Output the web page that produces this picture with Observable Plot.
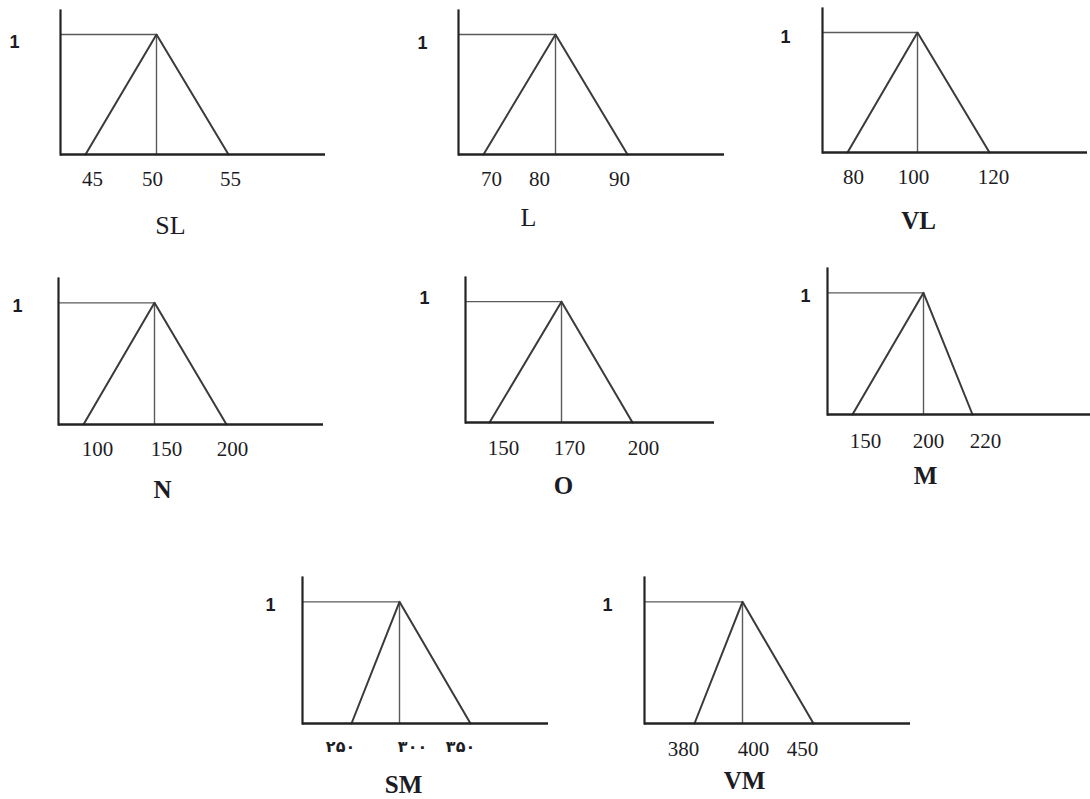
<!DOCTYPE html>
<html><head><meta charset="utf-8">
<script src="https://cdn.jsdelivr.net/npm/d3@7"></script>
<script src="https://cdn.jsdelivr.net/npm/@observablehq/plot@0.6"></script>
<style>
html,body{margin:0;padding:0;background:#fff;}
#chart{position:relative;width:1090px;height:799px;overflow:hidden;background:#fff;}
#chart svg{position:absolute;overflow:visible;}
</style></head><body><div id="chart"></div>
<script>
// ---- data ----
const setNames  = ["SL", "L", "VL", "N", "O", "M", "SM", "VM"];
const leftFoot  = [45, 70, 80, 100, 150, 150, 250, 380];
const peakAt    = [50, 80, 100, 150, 170, 200, 300, 400];
const rightFoot = [55, 90, 120, 200, 200, 220, 350, 450];
const tickText  = [
  ["45", "50", "55"],
  ["70", "80", "90"],
  ["80", "100", "120"],
  ["100", "150", "200"],
  ["150", "170", "200"],
  ["150", "200", "220"],
  ["۲۵۰", "۳۰۰", "۳۵۰"],
  ["380", "400", "450"]
];
const peakMembership = 1;
const peakLabel = "1";

// ---- layout (pixels of the page; the hand-drawn axes are not uniform) ----
const layout = [
  {axX: 60,  axTop: 10,  axY: 154, axRight: 325,  px: [85, 156, 228],  tickDx: [7, -4, 2],    tickDy: 31, titleDx: 14,  titleDy: 79, oneDx: -46, oneDy: 8,  bold: false, persian: false},
  {axX: 458, axTop: 10,  axY: 154, axRight: 724,  px: [483, 555, 627], tickDx: [8, -16, -8],  tickDy: 31, titleDx: -27, titleDy: 71, oneDx: -36, oneDy: 9,  bold: false, persian: false},
  {axX: 822, axTop: 8,   axY: 152, axRight: 1087, px: [847, 917, 989], tickDx: [6, -4, 4],    tickDy: 31, titleDx: 1,   titleDy: 76, oneDx: -37, oneDy: 5,  bold: true,  persian: false},
  {axX: 58,  axTop: 278, axY: 424, axRight: 323,  px: [83, 154, 226],  tickDx: [14, 12, 6],   tickDy: 31, titleDx: 8,   titleDy: 73, oneDx: -41, oneDy: 3,  bold: true,  persian: false},
  {axX: 465, axTop: 277, axY: 422, axRight: 714,  px: [489, 561, 632], tickDx: [14, 8, 11],   tickDy: 32, titleDx: 2,   titleDy: 71, oneDx: -41, oneDy: -3, bold: true,  persian: false},
  {axX: 827, axTop: 268, axY: 414, axRight: 1090, px: [852, 923, 972], tickDx: [13, 5, 13],   tickDy: 33, titleDx: 2,   titleDy: 69, oneDx: -22, oneDy: 3,  bold: true,  persian: false},
  {axX: 302, axTop: 577, axY: 723, axRight: 548,  px: [351, 399, 470], tickDx: [-11, 13, -10],tickDy: 28, titleDx: 4,   titleDy: 69, oneDx: -32, oneDy: 3,  bold: true,  persian: true},
  {axX: 644, axTop: 577, axY: 723, axRight: 910,  px: [694, 742, 813], tickDx: [-11, 11, -11],tickDy: 32, titleDx: 2,   titleDy: 65, oneDx: -37, oneDy: 3,  bold: true,  persian: false}
];

const AXIS = "#232323", TRI = "#3a3a3a", THIN = "#5a5a5a", INK = "#1c1c24";
const chart = document.getElementById("chart");

setNames.forEach((name, i) => {
  const L = layout[i];
  const left = L.axX - 60;
  const padBottom = 90;
  const vals = [leftFoot[i], peakAt[i], rightFoot[i]];
  // piecewise mapping of the sketch's non-uniform axis
  const sketch = d3.scaleLinear().domain(vals).range(L.px);
  const axisStart = sketch.invert(L.axX);
  const pts = [
    {x: leftFoot[i], y: 0},
    {x: peakAt[i], y: peakMembership},
    {x: rightFoot[i], y: 0}
  ];
  const tickMarks = vals.map((v, j) => Plot.text([{v, t: tickText[i][j]}], {
    x: "v", y: () => 0, text: "t",
    dx: L.tickDx[j], dy: L.tickDy, lineAnchor: "bottom", textAnchor: "middle",
    fontFamily: L.persian ? "DejaVu Sans" : "Liberation Serif",
    fontSize: L.persian ? 16 : 21, fontWeight: L.persian ? "bold" : "normal",
    fill: INK
  }));
  const svg = Plot.plot({
    width: L.axRight - left,
    height: (L.axY - L.axTop) + padBottom,
    marginLeft: 60, marginRight: 0, marginTop: 0, marginBottom: padBottom,
    x: {transform: sketch, domain: [L.axX, L.axRight], axis: null},
    y: {domain: [0, 1.2], axis: null},
    style: {background: "transparent", overflow: "visible"},
    marks: [
      Plot.ruleY([peakMembership], {x1: () => axisStart, x2: () => peakAt[i], stroke: THIN, strokeWidth: 1.4}),
      Plot.ruleX([peakAt[i]], {y1: 0, y2: peakMembership, stroke: THIN, strokeWidth: 1.4}),
      Plot.line(pts, {x: "x", y: "y", stroke: TRI, strokeWidth: 2}),
      Plot.frame({anchor: "left", stroke: AXIS, strokeWidth: 2.2}),
      Plot.ruleY([0], {stroke: AXIS, strokeWidth: 2.6}),
      ...tickMarks,
      Plot.text([peakLabel], {
        frameAnchor: "left", y: () => peakMembership, text: d => d,
        dx: L.oneDx, dy: L.oneDy, textAnchor: "middle", lineAnchor: "middle",
        fontFamily: "Liberation Sans", fontWeight: "bold", fontSize: 18, fill: INK
      }),
      Plot.text([name], {
        x: () => peakAt[i], y: () => 0, text: d => d,
        dx: L.titleDx, dy: L.titleDy, textAnchor: "middle", lineAnchor: "bottom",
        fontFamily: "Liberation Serif", fontWeight: L.bold ? "bold" : "normal",
        fontSize: L.bold ? 25 : 26, fill: INK
      })
    ]
  });
  svg.querySelectorAll("text").forEach(t => {
    if (/[\u06F0-\u06F9]/.test(t.textContent)) t.style.letterSpacing = "4px";
  });
  svg.style.left = left + "px";
  svg.style.top = L.axTop + "px";
  chart.appendChild(svg);
});
</script></body></html>
